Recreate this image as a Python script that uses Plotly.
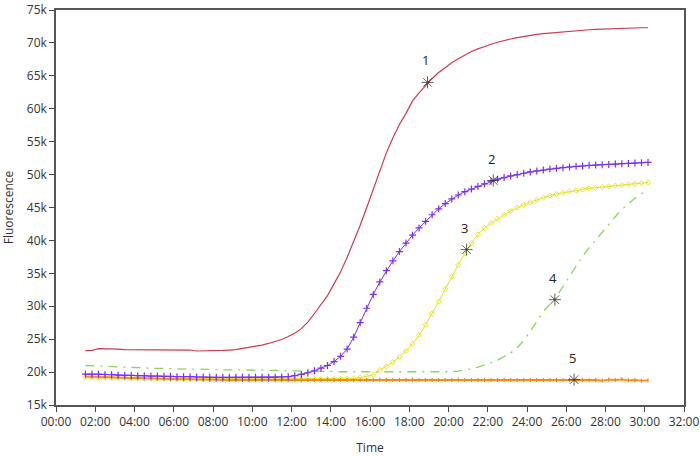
import plotly.graph_objects as go

# sampling grid: every 20 minutes from 01:30 to 30:10
minutes = list(range(90, 1811, 20))
hours = [m / 60 for m in minutes]

# values in thousands of fluorescence units
curve1 = [23.25, 23.3, 23.55, 23.55, 23.55, 23.5, 23.4, 23.4, 23.4, 23.4, 23.4, 23.4,
          23.4, 23.4, 23.4, 23.4, 23.35, 23.2, 23.2, 23.2, 23.3, 23.3, 23.35, 23.4,
          23.6, 23.75, 23.95, 24.1, 24.35, 24.6, 24.95, 25.4, 25.9, 26.6, 27.6, 28.9,
          30.2, 31.6, 33.4, 35.2, 37.4, 39.8, 42.3, 45.0, 47.8, 50.6, 53.3, 55.6,
          57.6, 59.3, 61.2, 62.4, 63.5, 64.6, 65.5, 66.3, 67.0, 67.6, 68.2, 68.7,
          69.1, 69.5, 69.8, 70.1, 70.4, 70.6, 70.8, 71.0, 71.15, 71.3, 71.4, 71.5,
          71.6, 71.7, 71.8, 71.85, 71.9, 72.0, 72.05, 72.1, 72.15, 72.2, 72.25, 72.3,
          72.3, 72.3, 72.3]
curve2 = [19.7, 19.7, 19.7, 19.65, 19.6, 19.55, 19.5, 19.5, 19.45, 19.45, 19.4, 19.4,
          19.35, 19.35, 19.3, 19.3, 19.3, 19.25, 19.25, 19.2, 19.2, 19.2, 19.2, 19.2,
          19.2, 19.2, 19.2, 19.2, 19.2, 19.2, 19.25, 19.3, 19.45, 19.65, 19.9, 20.2,
          20.6, 21.0, 21.6, 22.4, 23.5, 25.3, 27.5, 29.7, 31.8, 33.7, 35.4, 36.9,
          38.3, 39.6, 40.8, 41.9, 42.9, 43.9, 44.8, 45.6, 46.3, 46.9, 47.4, 47.8,
          48.2, 48.6, 49.0, 49.3, 49.55, 49.8, 50.0, 50.2, 50.4, 50.55, 50.7, 50.85,
          50.95, 51.05, 51.15, 51.25, 51.3, 51.4, 51.45, 51.5, 51.55, 51.6, 51.65, 51.7,
          51.75, 51.8, 51.85]
curve3 = [19.2, 19.2, 19.15, 19.15, 19.1, 19.1, 19.1, 19.05, 19.05, 19.0, 19.0, 19.0,
          19.0, 18.95, 18.95, 18.95, 18.95, 18.95, 18.95, 18.95, 18.95, 18.95, 18.95, 18.95,
          18.95, 18.95, 18.95, 18.95, 18.95, 18.95, 18.95, 18.95, 18.95, 18.95, 18.95, 18.95,
          18.95, 18.95, 18.95, 18.95, 19.0, 19.05, 19.15, 19.35, 19.6, 20.3, 20.85, 21.5,
          22.3, 23.2, 24.3, 25.6, 27.2, 28.9, 30.7, 32.6, 34.5, 36.3, 38.0, 39.6,
          40.9, 41.9, 42.6, 43.3, 43.9, 44.5, 45.0, 45.4, 45.8, 46.15, 46.5, 46.8,
          47.05, 47.25, 47.45, 47.6, 47.75, 47.9, 48.0, 48.1, 48.2, 48.3, 48.4, 48.5,
          48.6, 48.7, 48.8]
curve4 = [21.0, 20.95, 20.9, 20.85, 20.8, 20.75, 20.7, 20.7, 20.65, 20.6, 20.6, 20.55,
          20.55, 20.5, 20.5, 20.5, 20.45, 20.45, 20.4, 20.4, 20.4, 20.35, 20.35, 20.35,
          20.3, 20.3, 20.3, 20.3, 20.25, 20.25, 20.25, 20.2, 20.2, 20.2, 20.15, 20.15,
          20.1, 20.1, 20.1, 20.05, 20.05, 20.05, 20.0, 20.0, 20.0, 19.95, 19.95, 19.95,
          19.95, 19.95, 19.95, 19.95, 19.95, 19.95, 19.95, 20.0, 20.05, 20.15, 20.3, 20.5,
          20.75, 21.05, 21.4, 21.8, 22.3, 22.9, 23.7, 24.8, 26.2, 27.8, 29.2, 30.3,
          31.5, 33.0, 34.6, 36.2, 37.6, 38.9, 40.1, 41.3, 42.5, 43.6, 44.7, 45.6,
          46.4, 47.1, 47.7]
curve5 = [19.35, 19.3, 19.3, 19.25, 19.2, 19.2, 19.15, 19.1, 19.1, 19.05, 19.05, 19.0,
          19.0, 18.95, 18.95, 18.9, 18.9, 18.85, 18.85, 18.85, 18.8, 18.8, 18.8, 18.8,
          18.8, 18.75, 18.8, 18.8, 18.8, 18.75, 18.8, 18.8, 18.8, 18.75, 18.8, 18.8,
          18.8, 18.85, 18.8, 18.8, 18.8, 18.75, 18.8, 18.8, 18.8, 18.85, 18.8, 18.8,
          18.8, 18.8, 18.85, 18.8, 18.8, 18.8, 18.8, 18.8, 18.8, 18.85, 18.8, 18.8,
          18.8, 18.8, 18.8, 18.8, 18.85, 18.8, 18.8, 18.8, 18.8, 18.8, 18.8, 18.8,
          18.8, 18.8, 18.8, 18.8, 18.8, 18.75, 18.8, 18.7, 18.85, 18.8, 18.9, 18.75,
          18.8, 18.7, 18.75]

# cursor markers and their labels
cursor_hours = [18.93, 22.28, 20.92, 25.42, 26.4]
cursor_values = [64.0, 49.1, 38.6, 31.0, 18.85]
cursor_labels = ["1", "2", "3", "4", "5"]

x_tick_hours = [0, 2, 4, 6, 8, 10, 12, 14, 16, 18, 20, 22, 24, 26, 28, 30, 32]
x_tick_labels = ["00:00", "02:00", "04:00", "06:00", "08:00", "10:00", "12:00", "14:00",
                 "16:00", "18:00", "20:00", "22:00", "24:00", "26:00", "28:00", "30:00", "32:00"]
y_tick_values = [15, 20, 25, 30, 35, 40, 45, 50, 55, 60, 65, 70, 75]
y_tick_labels = ["15k", "20k", "25k", "30k", "35k", "40k", "45k", "50k", "55k", "60k", "65k", "70k", "75k"]


def k(vals):
    return [v * 1000 for v in vals]


fig = go.Figure()
fig.add_trace(go.Scatter(x=hours, y=k(curve1), mode="lines",
                         line=dict(color="#cc3a55", width=1.2)))
fig.add_trace(go.Scatter(x=hours, y=k(curve4), mode="lines",
                         line=dict(color="#8fd45a", width=1.3, dash="9px,6px,2px,6px")))
fig.add_trace(go.Scatter(x=hours, y=k(curve3), mode="lines+markers",
                         line=dict(color="#e2e21a", width=1),
                         marker=dict(symbol="diamond-open", size=4, color="#e6e62a",
                                     line=dict(width=1))))
fig.add_trace(go.Scatter(x=hours, y=k(curve5), mode="lines+markers",
                         line=dict(color="#ff8a1a", width=1.8),
                         marker=dict(symbol="line-ns-open", size=3, color="#ff7a00",
                                     line=dict(width=1, color="#ff7a00"))))
fig.add_trace(go.Scatter(x=hours, y=k(curve2), mode="lines+markers",
                         line=dict(color="#7a30f0", width=1),
                         marker=dict(symbol="cross-thin-open", size=5, color="#7a30f0",
                                     line=dict(width=1.2, color="#7a30f0"))))
fig.add_trace(go.Scatter(x=cursor_hours, y=k(cursor_values), mode="markers",
                         marker=dict(symbol="asterisk-open", size=10, color="#333",
                                     line=dict(width=0.8, color="#333"))))

for xh, yv, lab in zip(cursor_hours, cursor_values, cursor_labels):
    fig.add_annotation(x=xh, y=yv * 1000, text=lab, showarrow=False,
                       yshift=22, xshift=-2, font=dict(size=13, color="#222"))

axis_common = dict(showline=True, linecolor="#555", linewidth=1.5, mirror=True,
                   showgrid=False, zeroline=False, ticks="outside", ticklen=5,
                   tickcolor="#444", tickwidth=1, automargin=False,
                   tickfont=dict(size=12, color="#333"))

fig.update_layout(
    width=700, height=456,
    margin=dict(l=56, r=16, t=10, b=51),
    paper_bgcolor="white", plot_bgcolor="white",
    showlegend=False,
    font=dict(family="Open Sans, DejaVu Sans, sans-serif", size=12, color="#333"),
    xaxis=dict(range=[0, 32], tickvals=x_tick_hours, ticktext=x_tick_labels,
               title=dict(text="Time", font=dict(size=12)),
               **axis_common),
    yaxis=dict(range=[15000, 75000], tickvals=k(y_tick_values), ticktext=y_tick_labels,
               title=dict(text="Fluorescence", font=dict(size=12)),
               **axis_common),
)

fig.write_html("out.html", config={"displayModeBar": False},
               post_script="document.body.style.margin='0';document.body.style.overflow='hidden';")
